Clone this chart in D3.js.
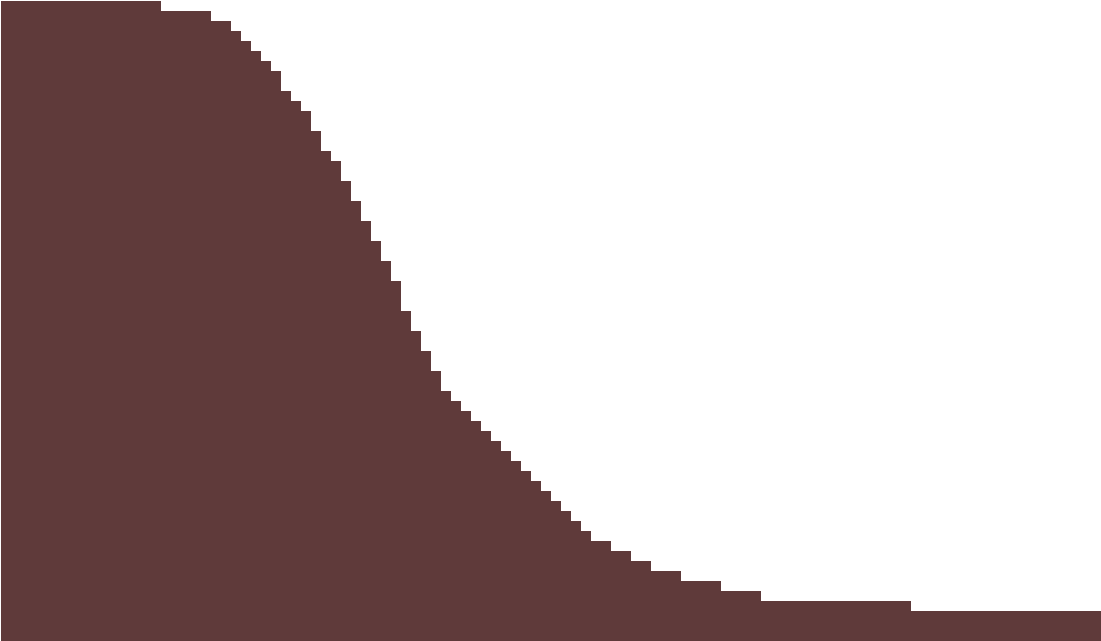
<!DOCTYPE html>
<html>
<head>
<meta charset="utf-8">
<title>step area</title>
<script src="https://cdn.jsdelivr.net/npm/d3@7"></script>
<style>
  html, body { margin: 0; padding: 0; background: #ffffff; }
  svg { display: block; }
</style>
</head>
<body>
<div class="chart"></div>
<script>
// one value per bin (bins 0..109)
var bins = d3.range(110);
var counts = [
  64,64,64,64,64,64,64,64,64,64,64,64,64,64,64,64,
  63,63,63,63,63,
  62,62,61,60,59,58,57,55,54,53,
  51,49,48,46,44,42,40,38,36,33,
  31,29,27,25,24,23,22,21,20,19,
  18,17,16,15,14,13,12,11,10,10,
  9,9,8,8,7,7,7,6,6,6,6,
  5,5,5,5,
  4,4,4,4,4,4,4,4,4,4,4,4,4,4,4,
  3,3,3,3,3,3,3,3,3,3,3,3,3,3,3,3,3,3,3
];

var width = 1101, height = 641;
var fill_color = "#5f3a3a";

var svg = d3.select('.chart')
  .append('svg')
  .attr('width', width)
  .attr('height', height);

var x = d3.scaleLinear().domain([0, bins.length]).range([1, width]);
var y = d3.scaleLinear().domain([0, 64]).range([height, 1]);

// repeat last value so the final step reaches the right edge
var pts = bins.map(function(b, i){ return [b, counts[i]]; });
pts.push([bins.length, counts[counts.length - 1]]);

var area = d3.area()
  .curve(d3.curveStepAfter)
  .x(function(d){ return x(d[0]); })
  .y0(y(0))
  .y1(function(d){ return y(d[1]); });

svg.append('path')
  .datum(pts)
  .attr('fill', fill_color)
  .attr('shape-rendering', 'crispEdges')
  .attr('d', area);
</script>
</body>
</html>
